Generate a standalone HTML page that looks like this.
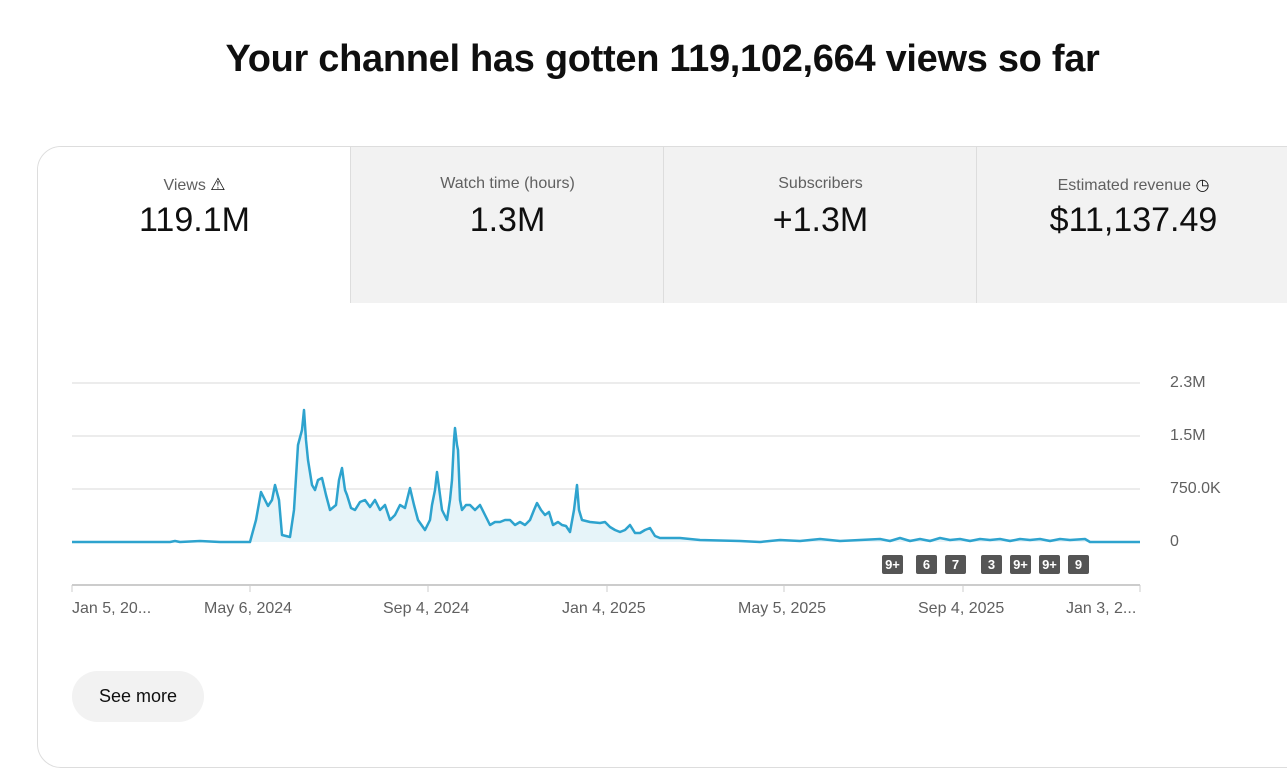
<!DOCTYPE html>
<html><head><style>
body{margin:0;width:1287px;height:750px;background:#fff;font-family:"Liberation Sans",Arial,sans-serif;overflow:hidden;position:relative}
h1{position:absolute;top:38px;left:0;width:1325px;text-align:center;margin:0;font-size:38px;font-weight:bold;color:#0f0f0f;letter-spacing:-0.3px}
.card{position:absolute;left:37px;top:146px;width:1280px;height:620px;border:1px solid #ddd;border-radius:24px;overflow:hidden}
.tab{position:absolute;top:0;height:156px;width:313px;background:#f2f2f2;border-left:1px solid #ddd;text-align:center}
.tab .l{margin-top:28px;font-size:16px;color:#606060;height:20px}
.tab .v{margin-top:6px;font-size:34px;color:#0f0f0f}
.ax{position:absolute;font-size:16px;color:#606060}
.b{position:absolute;top:555px;width:21px;height:19px;background:#555;color:#fff;font-size:13px;font-weight:bold;text-align:center;line-height:19px;border-radius:2px}
.btn{position:absolute;left:72px;top:671px;width:132px;height:51px;border-radius:26px;background:#f2f2f2;font-size:18px;line-height:51px;text-align:center;color:#0f0f0f}
</style></head><body>
<h1>Your channel has gotten 119,102,664 views so far</h1>
<div class="card">
<div class="tab" style="left:0;background:#fff;border-left:none"><div class="l">Views <span style="font-size:17px;color:#0f0f0f">⚠</span></div><div class="v">119.1M</div></div>
<div class="tab" style="left:312px"><div class="l">Watch time (hours)</div><div class="v">1.3M</div></div>
<div class="tab" style="left:625px"><div class="l">Subscribers</div><div class="v">+1.3M</div></div>
<div class="tab" style="left:938px"><div class="l">Estimated revenue <span style="color:#0f0f0f">◷</span></div><div class="v">$11,137.49</div></div>
</div>
<svg style="position:absolute;left:0;top:0" width="1287" height="750">
<g stroke="#e5e5e5" stroke-width="1.5"><line x1="72" y1="383" x2="1140" y2="383"/><line x1="72" y1="436" x2="1140" y2="436"/><line x1="72" y1="489" x2="1140" y2="489"/></g>
<line x1="72" y1="585" x2="1140" y2="585" stroke="#ccc" stroke-width="2"/>
<g stroke="#ccc"><line x1="72" y1="585" x2="72" y2="592"/><line x1="250" y1="585" x2="250" y2="592"/><line x1="428" y1="585" x2="428" y2="592"/><line x1="607" y1="585" x2="607" y2="592"/><line x1="784" y1="585" x2="784" y2="592"/><line x1="963" y1="585" x2="963" y2="592"/><line x1="1140" y1="585" x2="1140" y2="592"/></g>
<polygon fill="#e6f4f9" points="72,542 250,542 256,520 261,492 265,500 268,506 272,500 275,485 279,500 282,535 290,537 294,510 298,445 302,430 304,410 306,440 308,460 312,485 315,490 318,480 322,478 326,495 330,510 336,505 339,480 342,468 345,490 347,495 351,508 355,510 360,502 365,500 370,507 375,500 380,510 385,505 390,520 395,515 400,505 405,508 410,488 414,505 418,520 425,530 430,520 432,505 435,490 437,472 440,495 442,510 447,520 450,500 452,480 454,440 455,428 457,445 458,450 460,500 462,510 466,505 470,505 475,510 480,505 485,515 490,525 495,522 500,522 505,520 510,520 515,525 520,522 525,525 530,520 534,510 537,503 541,510 545,515 549,512 553,525 558,522 562,525 566,526 570,532 574,510 577,485 579,510 582,520 590,522 600,523 605,522 610,527 615,530 620,532 625,530 630,525 635,533 640,533 645,530 650,528 655,536 660,538 680,538 700,540 740,541 760,542 780,540 820,540 860,540 900,539 950,539 1000,539 1040,539 1085,539 1090,542 1140,542 1140,542"/>
<polyline fill="none" stroke="#2ea3ce" stroke-width="2.5" stroke-linejoin="round" points="72,542 170,542 175,541 180,542 200,541 220,542 250,542 256,520 261,492 265,500 268,506 272,500 275,485 279,500 282,535 290,537 294,510 298,445 302,430 304,410 306,440 308,460 312,485 315,490 318,480 322,478 326,495 330,510 336,505 339,480 342,468 345,490 347,495 351,508 355,510 360,502 365,500 370,507 375,500 380,510 385,505 390,520 395,515 400,505 405,508 410,488 414,505 418,520 425,530 430,520 432,505 435,490 437,472 440,495 442,510 447,520 450,500 452,480 454,440 455,428 457,445 458,450 460,500 462,510 466,505 470,505 475,510 480,505 485,515 490,525 495,522 500,522 505,520 510,520 515,525 520,522 525,525 530,520 534,510 537,503 541,510 545,515 549,512 553,525 558,522 562,525 566,526 570,532 574,510 577,485 579,510 582,520 590,522 600,523 605,522 610,527 615,530 620,532 625,530 630,525 635,533 640,533 645,530 650,528 655,536 660,538 680,538 700,540 740,541 760,542 780,540 800,541 820,539 840,541 860,540 880,539 890,541 900,538 910,541 920,539 930,541 940,538 950,540 960,539 970,541 980,539 990,540 1000,539 1010,541 1020,539 1030,540 1040,539 1050,541 1060,539 1070,540 1085,539 1090,542 1140,542"/>
</svg>
<div class="ax" style="left:1170px;top:374px">2.3M</div>
<div class="ax" style="left:1170px;top:427px">1.5M</div>
<div class="ax" style="left:1170px;top:480px">750.0K</div>
<div class="ax" style="left:1170px;top:533px">0</div>
<div class="ax" style="left:72px;top:600px">Jan 5, 20...</div>
<div class="ax" style="left:204px;top:600px">May 6, 2024</div>
<div class="ax" style="left:383px;top:600px">Sep 4, 2024</div>
<div class="ax" style="left:562px;top:600px">Jan 4, 2025</div>
<div class="ax" style="left:738px;top:600px">May 5, 2025</div>
<div class="ax" style="left:918px;top:600px">Sep 4, 2025</div>
<div class="ax" style="left:1066px;top:600px">Jan 3, 2...</div>
<div class="b" style="left:882px">9+</div>
<div class="b" style="left:916px">6</div>
<div class="b" style="left:945px">7</div>
<div class="b" style="left:981px">3</div>
<div class="b" style="left:1010px">9+</div>
<div class="b" style="left:1039px">9+</div>
<div class="b" style="left:1068px">9</div>
<div class="btn">See more</div>
</body></html>
